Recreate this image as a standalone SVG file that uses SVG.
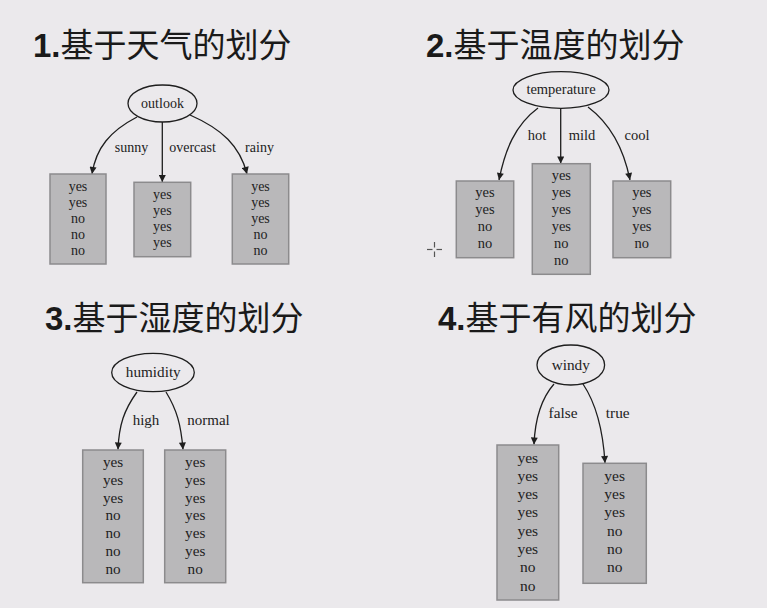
<svg xmlns="http://www.w3.org/2000/svg" width="767" height="608" viewBox="0 0 767 608">
<defs>
<marker id="arr" viewBox="0 0 10 10" refX="10" refY="5" markerWidth="9" markerHeight="7" markerUnits="userSpaceOnUse" orient="auto">
<path d="M0,0 L10,5 L0,10 z" fill="#1e1e1e"/>
</marker>
<style>
.title{font-family:"Noto Sans CJK SC",sans-serif;font-size:33px;fill:#1a1a1a;font-weight:400}
.num{font-family:"Liberation Sans",Arial,sans-serif;font-weight:bold}
.ell{fill:none;stroke:#1e1e1e;stroke-width:1.3}
.box{fill:#b9b8ba;stroke:#8c8b8d;stroke-width:1.5}
.t{font-family:"Liberation Serif","Times New Roman",serif;fill:#222;text-anchor:middle}
.edge{fill:none;stroke:#1e1e1e;stroke-width:1.3;marker-end:url(#arr)}
.cur{stroke:#555;stroke-width:1.2}
</style>
</defs>
<rect width="767" height="608" fill="#ebe9ec"/>

<!-- Titles -->
<text class="title" x="33" y="57"><tspan class="num">1.</tspan>基于天气的划分</text>
<text class="title" x="426" y="57"><tspan class="num">2.</tspan>基于温度的划分</text>
<text class="title" x="45" y="330"><tspan class="num">3.</tspan>基于湿度的划分</text>
<text class="title" x="438" y="330"><tspan class="num">4.</tspan>基于有风的划分</text>

<!-- Connectors -->
<g id="connectors">
<path class="edge" d="M137,117 C110,131 96,148 92,174"/>
<path class="edge" d="M162.3,122 L162.3,182"/>
<path class="edge" d="M190,115 C222,129 240,146 247,174"/>
<path class="edge" d="M538,108 C515,125 505,150 499,180"/>
<path class="edge" d="M560.7,109 L560.7,163.5"/>
<path class="edge" d="M588,107 C612,125 624,150 630,180"/>
<path class="edge" d="M137,392 C124,410 119,425 118,449.5"/>
<path class="edge" d="M166,392 C177,410 181,425 183,449.5"/>
<path class="edge" d="M554,384 C540,400 535,420 534,444.5"/>
<path class="edge" d="M583,384 C597,405 603,430 605,463"/>
<g font-size="14">
<text class="t" x="131.5" y="152">sunny</text>
<text class="t" x="192.5" y="152">overcast</text>
<text class="t" x="259.5" y="152">rainy</text>
</g>
<g font-size="14.5">
<text class="t" x="537" y="140">hot</text>
<text class="t" x="582" y="140">mild</text>
<text class="t" x="637" y="140">cool</text>
</g>
<g font-size="15">
<text class="t" x="146" y="425">high</text>
<text class="t" x="208.5" y="425">normal</text>
</g>
<g font-size="15.3">
<text class="t" x="563" y="418">false</text>
<text class="t" x="617.7" y="418">true</text>
</g>
</g>

<!-- Quadrant 1 -->
<g id="outlook">
<ellipse class="ell" cx="162.5" cy="103.5" rx="34.5" ry="18.5"/>
<text class="t" x="162.5" y="107.5" font-size="14">outlook</text>
</g>
<g id="sunny-leaf" font-size="14">
<rect class="box" x="50" y="174" width="56" height="90"/>
<text class="t" x="78" y="190.5">yes</text>
<text class="t" x="78" y="206.7">yes</text>
<text class="t" x="78" y="222.9">no</text>
<text class="t" x="78" y="239.1">no</text>
<text class="t" x="78" y="255.3">no</text>
</g>
<g id="overcast-leaf" font-size="14">
<rect class="box" x="134" y="182.3" width="56.7" height="74.4"/>
<text class="t" x="162.3" y="198.5">yes</text>
<text class="t" x="162.3" y="214.7">yes</text>
<text class="t" x="162.3" y="230.9">yes</text>
<text class="t" x="162.3" y="247.1">yes</text>
</g>
<g id="rainy-leaf" font-size="14">
<rect class="box" x="232.3" y="174" width="56.4" height="90"/>
<text class="t" x="260.5" y="190.5">yes</text>
<text class="t" x="260.5" y="206.7">yes</text>
<text class="t" x="260.5" y="222.9">yes</text>
<text class="t" x="260.5" y="239.1">no</text>
<text class="t" x="260.5" y="255.3">no</text>
</g>

<!-- Quadrant 2 -->
<g id="temperature">
<ellipse class="ell" cx="561" cy="90" rx="48" ry="18.3"/>
<text class="t" x="561" y="94" font-size="14.5">temperature</text>
</g>
<g id="hot-leaf" font-size="14.5">
<rect class="box" x="456.3" y="181" width="57.4" height="76.7"/>
<text class="t" x="485" y="197">yes</text>
<text class="t" x="485" y="214">yes</text>
<text class="t" x="485" y="231">no</text>
<text class="t" x="485" y="248">no</text>
</g>
<g id="mild-leaf" font-size="14.5">
<rect class="box" x="532.3" y="163.7" width="58" height="110.6"/>
<text class="t" x="561.3" y="180">yes</text>
<text class="t" x="561.3" y="197">yes</text>
<text class="t" x="561.3" y="214">yes</text>
<text class="t" x="561.3" y="231">yes</text>
<text class="t" x="561.3" y="248">no</text>
<text class="t" x="561.3" y="265">no</text>
</g>
<g id="cool-leaf" font-size="14.5">
<rect class="box" x="613" y="181" width="57.7" height="76.7"/>
<text class="t" x="641.8" y="197">yes</text>
<text class="t" x="641.8" y="214">yes</text>
<text class="t" x="641.8" y="231">yes</text>
<text class="t" x="641.8" y="248">no</text>
</g>
<g id="cursor">
<line class="cur" x1="427" y1="249.5" x2="432.5" y2="249.5"/>
<line class="cur" x1="436.5" y1="249.5" x2="442" y2="249.5"/>
<line class="cur" x1="434.5" y1="242" x2="434.5" y2="247.5"/>
<line class="cur" x1="434.5" y1="251.5" x2="434.5" y2="257"/>
</g>

<!-- Quadrant 3 -->
<g id="humidity">
<ellipse class="ell" cx="153" cy="372.5" rx="41.3" ry="19.2"/>
<text class="t" x="153.3" y="377" font-size="15.2">humidity</text>
</g>
<g id="high-leaf" font-size="15.2">
<rect class="box" x="82.7" y="450" width="60.6" height="132.7"/>
<text class="t" x="113" y="467.3">yes</text>
<text class="t" x="113" y="485">yes</text>
<text class="t" x="113" y="502.7">yes</text>
<text class="t" x="113" y="520.4">no</text>
<text class="t" x="113" y="538.1">no</text>
<text class="t" x="113" y="555.8">no</text>
<text class="t" x="113" y="573.5">no</text>
</g>
<g id="normal-leaf" font-size="15.2">
<rect class="box" x="164.7" y="450" width="61" height="132.7"/>
<text class="t" x="195.2" y="467.3">yes</text>
<text class="t" x="195.2" y="485">yes</text>
<text class="t" x="195.2" y="502.7">yes</text>
<text class="t" x="195.2" y="520.4">yes</text>
<text class="t" x="195.2" y="538.1">yes</text>
<text class="t" x="195.2" y="555.8">yes</text>
<text class="t" x="195.2" y="573.5">no</text>
</g>

<!-- Quadrant 4 -->
<g id="windy">
<ellipse class="ell" cx="570.8" cy="365" rx="33.8" ry="20"/>
<text class="t" x="570.8" y="370" font-size="15.3">windy</text>
</g>
<g id="false-leaf" font-size="15.5">
<rect class="box" x="497" y="445" width="61.7" height="155"/>
<text class="t" x="527.8" y="462.5">yes</text>
<text class="t" x="527.8" y="480.8">yes</text>
<text class="t" x="527.8" y="499.1">yes</text>
<text class="t" x="527.8" y="517.4">yes</text>
<text class="t" x="527.8" y="535.7">yes</text>
<text class="t" x="527.8" y="554">yes</text>
<text class="t" x="527.8" y="572.3">no</text>
<text class="t" x="527.8" y="590.6">no</text>
</g>
<g id="true-leaf" font-size="15.5">
<rect class="box" x="583" y="463.3" width="63.3" height="120"/>
<text class="t" x="614.7" y="480.8">yes</text>
<text class="t" x="614.7" y="499.1">yes</text>
<text class="t" x="614.7" y="517.4">yes</text>
<text class="t" x="614.7" y="535.7">no</text>
<text class="t" x="614.7" y="554">no</text>
<text class="t" x="614.7" y="572.3">no</text>
</g>
</svg>
